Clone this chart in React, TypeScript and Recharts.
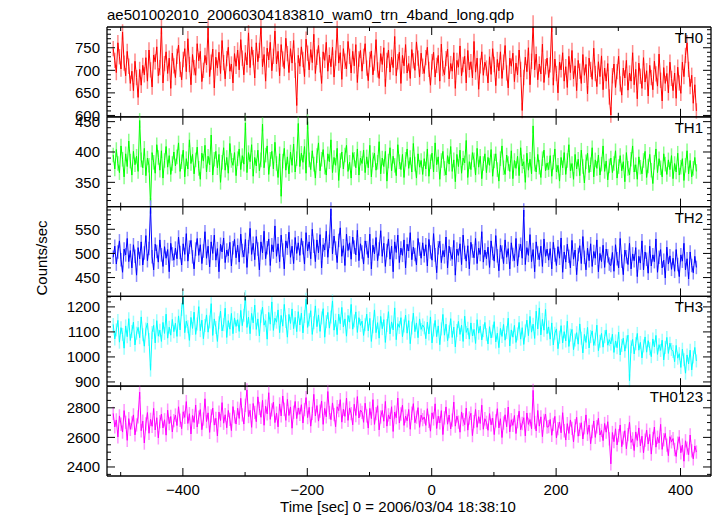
import { LineChart, Line, XAxis, YAxis, ErrorBar } from 'recharts'

// time axis: bins start at T0 and step DT seconds
const T0 = -512
const DT = 2.5

const th0 = [
  748, 722, 695, 761, 730, 703, 785, 716, 688, 742, 709, 671, 698, 655, 720, 684, 640, 702, 667, 711,
  690, 728, 676, 745, 701, 663, 734, 719, 752, 688, 706, 797, 672, 715, 741, 693, 727, 660, 738, 710,
  684, 731, 756, 702, 679, 724, 748, 697, 770, 713, 668, 735, 706, 689, 759, 721, 742, 675, 700, 733,
  712, 794, 686, 718, 747, 661, 729, 705, 740, 693, 766, 717, 681, 726, 751, 698, 714, 672, 737, 709,
  745, 701, 768, 727, 690, 739, 712, 783, 706, 752, 728, 683, 761, 719, 744, 798, 708, 735, 676, 749,
  723, 762, 699, 731, 787, 714, 742, 688, 757, 725, 704, 771, 737, 695, 748, 716, 766, 700, 622, 733,
  709, 752, 724, 686, 769, 738, 701, 746, 717, 780, 693, 729, 755, 712, 671, 741, 722, 762, 698, 734,
  708, 751, 685, 727, 793, 716, 739, 680, 748, 720, 703, 764, 731, 694, 742, 710, 757, 673, 725, 744,
  698, 731, 759, 705, 677, 724, 743, 690, 716, 768, 701, 682, 737, 713, 750, 664, 722, 745, 696, 729,
  706, 775, 688, 719, 740, 671, 733, 710, 757, 694, 715, 682, 746, 721, 700, 763, 727, 685, 738, 709,
  693, 728, 751, 702, 667, 719, 740, 685, 711, 733, 676, 758, 704, 690, 726, 747, 681, 715, 698, 739,
  660, 722, 707, 754, 688, 713, 731, 672, 744, 701, 719, 683, 764, 696, 727, 658, 710, 741, 689, 718,
  705, 672, 730, 691, 748, 713, 666, 724, 699, 741, 682, 718, 755, 694, 661, 727, 709, 738, 675, 716,
  690, 745, 702, 611, 684, 729, 697, 750, 668, 720, 805, 701, 736, 679, 714, 692, 758, 673, 708, 727,
  684, 712, 802, 667, 725, 693, 650, 718, 701, 739, 676, 708, 662, 731, 695, 744, 681, 710, 655, 722,
  698, 671, 735, 689, 713, 648, 727, 702, 680, 749, 693, 664, 719, 686, 732, 657, 705, 676, 715, 641,
  601, 688, 714, 662, 697, 731, 670, 645, 705, 683, 722, 656, 694, 676, 739, 668, 702, 637, 716, 687,
  660, 728, 674, 699, 643, 711, 684, 657, 720, 692, 665, 736, 678, 632, 706, 671, 693, 650, 718, 682,
  655, 694, 638, 707, 672, 649, 718, 686, 733, 761, 702, 664, 689, 627, 668, 610,
]

const th1 = [
  395, 372, 404, 381, 366, 410, 388, 359, 397, 376, 418, 385, 362, 401, 379, 393, 368, 452, 387, 374,
  406, 361, 390, 378, 312, 399, 383, 365, 412, 391, 370, 402, 357, 386, 409, 375, 394, 363, 381, 400,
  377, 392, 415, 368, 384, 403, 359, 389, 372, 420, 381, 396, 364, 387, 408, 373, 355, 398, 385, 411,
  367, 393, 379, 428, 362, 388, 401, 374, 396, 350, 383, 407, 370, 391, 365, 414, 386, 378, 399, 361,
  389, 405, 371, 394, 380, 448, 366, 399, 384, 412, 360, 391, 377, 403, 369, 387, 446, 374, 395, 410,
  363, 388, 401, 372, 416, 381, 358, 397, 327, 385, 406, 370, 392, 364, 400, 378, 413, 367, 389, 447,
  376, 398, 383, 409, 365, 450, 387, 371, 402, 380, 357, 394, 415, 369, 388, 404, 375, 362, 397, 384,
  420, 366, 391, 378, 406, 353, 386, 400, 372, 395, 411, 368, 383, 357, 399, 388, 374, 405, 362, 390,
  381, 403, 366, 392, 374, 411, 359, 387, 398, 370, 383, 417, 364, 390, 376, 401, 352, 385, 407, 369,
  393, 378, 361, 412, 384, 371, 396, 358, 388, 405, 373, 391, 367, 414, 380, 357, 397, 375, 386, 363,
  389, 372, 405, 360, 384, 398, 367, 415, 379, 392, 355, 386, 401, 373, 362, 394, 380, 409, 368, 387,
  351, 396, 376, 403, 365, 390, 382, 419, 358, 384, 371, 399, 387, 362, 406, 375, 393, 356, 381, 397,
  366, 391, 378, 404, 360, 385, 397, 371, 352, 389, 410, 374, 363, 395, 381, 368, 402, 356, 386, 373,
  393, 361, 407, 377, 384, 350, 398, 370, 388, 364, 443, 380, 367, 396, 375, 358, 389, 403, 369, 382,
  371, 394, 360, 383, 405, 367, 378, 352, 391, 374, 399, 363, 386, 412, 369, 381, 355, 396, 372, 388,
  361, 403, 376, 349, 384, 398, 366, 379, 407, 359, 387, 373, 395, 362, 380, 410, 368, 385, 354, 377,
  390, 366, 381, 402, 357, 376, 394, 369, 384, 351, 399, 373, 362, 388, 410, 367, 379, 355, 392, 375,
  364, 386, 401, 358, 377, 396, 370, 348, 383, 405, 366, 389, 374, 359, 397, 380, 363, 387, 371, 394,
  356, 381, 367, 398, 362, 375, 389, 353, 378, 402, 364, 386, 359, 373, 391, 368,
]

const th2 = [
  492, 515, 478, 503, 526, 487, 461, 509, 497, 531, 483, 506, 470, 518, 494, 455, 512, 489, 524, 476,
  501, 537, 485, 510, 596, 493, 466, 519, 504, 482, 528, 497, 473, 514, 490, 508, 462, 521, 499, 486,
  511, 489, 534, 502, 476, 520, 498, 541, 484, 513, 527, 493, 468, 509, 531, 496, 518, 479, 505, 545,
  490, 515, 472, 524, 500, 538, 486, 510, 462, 519, 503, 532, 481, 507, 495, 523, 474, 512, 529, 491,
  517, 482, 540, 506, 493, 529, 471, 514, 552, 498, 521, 487, 535, 509, 466, 524, 501, 546, 489, 512,
  530, 475, 518, 503, 557, 494, 520, 483, 538, 507, 468, 526, 511, 544, 492, 515, 479, 533, 500, 522,
  496, 531, 512, 478, 543, 505, 524, 489, 550, 515, 483, 528, 501, 539, 470, 518, 507, 546, 492, 525,
  592, 499, 536, 511, 481, 527, 553, 494, 516, 475, 540, 506, 522, 488, 534, 513, 497, 548, 485, 520,
  503, 478, 526, 512, 491, 540, 468, 517, 499, 533, 485, 509, 547, 494, 521, 473, 506, 530, 488, 515,
  462, 524, 502, 538, 481, 511, 496, 528, 470, 519, 505, 543, 487, 513, 498, 476, 531, 509, 490, 522,
  495, 518, 474, 529, 503, 486, 541, 497, 460, 512, 525, 481, 506, 493, 534, 470, 515, 499, 488, 527,
  455, 509, 496, 520, 477, 538, 502, 484, 516, 468, 523, 505, 491, 531, 479, 511, 498, 545, 482, 507,
  489, 513, 471, 526, 500, 484, 537, 495, 464, 517, 503, 479, 528, 492, 510, 468, 522, 498, 485, 531,
  474, 506, 519, 490, 590, 477, 512, 496, 539, 483, 508, 462, 524, 501, 487, 515, 473, 530, 494, 509,
  486, 510, 468, 523, 497, 475, 514, 490, 532, 461, 503, 482, 519, 494, 470, 527, 488, 507, 456, 498,
  516, 479, 535, 492, 466, 511, 485, 520, 473, 504, 490, 528, 462, 500, 483, 517, 471, 509, 495, 478,
  475, 502, 463, 518, 489, 470, 531, 484, 456, 507, 493, 477, 521, 468, 499, 485, 512, 452, 494, 480,
  526, 466, 503, 488, 459, 515, 474, 497, 483, 530, 461, 492, 508, 470, 486, 449, 513, 478, 495, 467,
  490, 463, 508, 477, 452, 497, 484, 521, 466, 489, 447, 503, 475, 460, 494, 471,
]

const th3 = [
  1130, 1072, 1108, 1146, 1059, 1117, 1090, 1035, 1124, 1081, 1153, 1066, 1102, 1139, 1048, 1095, 1118, 1077, 1160, 1089,
  1043, 1112, 1135, 1070, 947, 1098, 1126, 1056, 1145, 1083, 1107, 1062, 1138, 1094, 1171, 1075, 1119, 1087, 1150, 1101,
  1135, 1082, 1164, 1108, 1190, 1238, 1097, 1143, 1121, 1066, 1158, 1114, 1179, 1090, 1132, 1201, 1105, 1147, 1073, 1126,
  1168, 1099, 1140, 1213, 1086, 1152, 1118, 1062, 1137, 1183, 1104, 1129, 1195, 1078, 1145, 1111, 1174, 1093, 1156, 1122,
  1149, 1102, 1186, 1125, 1167, 1241, 1118, 1159, 1093, 1174, 1136, 1207, 1110, 1152, 1084, 1163, 1199, 1127, 1145, 1071,
  1178, 1131, 1220, 1106, 1155, 1139, 1188, 1097, 1166, 1123, 1210, 1142, 1079, 1170, 1134, 1192, 1113, 1158, 1101, 1181,
  1128, 1175, 1096, 1162, 1231, 1118, 1149, 1185, 1090, 1137, 1204, 1121, 1168, 1102, 1156, 1193, 1079, 1141, 1178, 1115,
  1160, 1224, 1107, 1147, 1089, 1171, 1133, 1198, 1120, 1152, 1083, 1166, 1139, 1210, 1111, 1144, 1180, 1098, 1157, 1126,
  1143, 1086, 1129, 1171, 1104, 1154, 1062, 1121, 1188, 1097, 1137, 1075, 1162, 1113, 1149, 1058, 1126, 1181, 1092, 1140,
  1108, 1196, 1069, 1133, 1118, 1157, 1081, 1124, 1167, 1095, 1145, 1053, 1116, 1175, 1101, 1136, 1077, 1152, 1110, 1128,
  1117, 1073, 1139, 1092, 1160, 1056, 1108, 1146, 1081, 1124, 1049, 1112, 1170, 1087, 1131, 1065, 1101, 1153, 1078, 1119,
  1040, 1106, 1142, 1090, 1127, 1062, 1163, 1098, 1115, 1071, 1136, 1084, 1110, 1054, 1149, 1095, 1123, 1068, 1105, 1138,
  1089, 1052, 1121, 1076, 1103, 1141, 1060, 1095, 1037, 1114, 1082, 1130, 1067, 1098, 1155, 1044, 1108, 1079, 1126, 1058,
  1092, 1138, 1071, 1117, 1050, 1104, 1147, 1085, 1162, 1099, 1131, 1074, 1183, 1112, 1196, 1088, 1150, 1107, 1190, 1093,
  1120, 1071, 1136, 1048, 1095, 1112, 1033, 1079, 1125, 1056, 1101, 1064, 1143, 1042, 1087, 1110, 1029, 1068, 1097, 1051,
  1132, 1075, 1016, 1090, 1058, 1118, 1036, 1082, 1104, 1046, 1071, 1127, 1025, 1063, 1094, 1039, 1081, 1108, 1047, 1069,
  1052, 1091, 1018, 1064, 1037, 1099, 1008, 1046, 1075, 1023, 1060, 1087, 905, 1041, 1070, 1012, 1053, 1094, 1027, 1058,
  996, 1044, 1080, 1019, 1065, 1033, 1001, 1072, 1040, 1086, 1010, 1049, 1026, 1067, 988, 1038, 1078, 1014, 1055, 1030,
  1022, 981, 1046, 995, 1013, 958, 1031, 989, 935, 1008, 972, 1027, 948, 1000, 1038, 984,
]

const th0123 = [
  2762, 2671, 2718, 2603, 2745, 2689, 2636, 2781, 2702, 2580, 2727, 2654, 2698, 2752, 2617, 2684, 2739, 2906, 2645, 2710,
  2562, 2691, 2768, 2628, 2722, 2675, 2796, 2650, 2733, 2597, 2706, 2758, 2664, 2719, 2615, 2784, 2693, 2741, 2637, 2713,
  2751, 2680, 2807, 2716, 2659, 2773, 2735, 2842, 2694, 2760, 2623, 2748, 2701, 2819, 2670, 2737, 2788, 2652, 2724, 2861,
  2707, 2766, 2634, 2745, 2798, 2683, 2729, 2610, 2771, 2714, 2835, 2696, 2753, 2665, 2782, 2722, 2646, 2808, 2739, 2690,
  2797, 2728, 2864, 2752, 2690, 2817, 2921, 2741, 2783, 2668, 2829, 2769, 2706, 2874, 2795, 2736, 2850, 2682, 2811, 2759,
  2902, 2722, 2786, 2838, 2700, 2764, 2671, 2826, 2745, 2880, 2790, 2715, 2857, 2748, 2806, 2662, 2770, 2843, 2727, 2799,
  2756, 2821, 2697, 2788, 2869, 2734, 2803, 2676, 2762, 2891, 2745, 2815, 2710, 2778, 2846, 2688, 2796, 2739, 2910, 2768,
  2720, 2833, 2754, 2672, 2807, 2781, 2855, 2703, 2790, 2742, 2866, 2715, 2799, 2761, 2685, 2824, 2748, 2876, 2731, 2785,
  2769, 2702, 2831, 2745, 2663, 2796, 2727, 2855, 2688, 2760, 2814, 2651, 2738, 2782, 2709, 2843, 2676, 2752, 2724, 2807,
  2640, 2771, 2733, 2866, 2697, 2758, 2818, 2681, 2744, 2712, 2789, 2655, 2763, 2828, 2699, 2737, 2801, 2668, 2750, 2720,
  2738, 2681, 2794, 2709, 2642, 2766, 2725, 2827, 2660, 2743, 2698, 2781, 2619, 2732, 2806, 2689, 2751, 2657, 2717, 2839,
  2676, 2744, 2703, 2635, 2772, 2720, 2686, 2798, 2649, 2731, 2763, 2612, 2707, 2789, 2668, 2740, 2694, 2818, 2655, 2726,
  2702, 2648, 2761, 2685, 2730, 2619, 2712, 2794, 2664, 2726, 2599, 2697, 2753, 2672, 2805, 2637, 2719, 2681, 2748, 2626,
  2706, 2777, 2652, 2694, 2733, 2610, 2765, 2688, 2721, 2658, 2918, 2700, 2643, 2782, 2676, 2739, 2605, 2714, 2757, 2669,
  2673, 2721, 2614, 2688, 2742, 2596, 2659, 2704, 2631, 2767, 2645, 2582, 2693, 2627, 2718, 2661, 2570, 2679, 2736, 2608,
  2654, 2699, 2589, 2665, 2752, 2621, 2683, 2557, 2640, 2711, 2600, 2672, 2729, 2616, 2647, 2578, 2694, 2635, 2706, 2590,
  2421, 2633, 2571, 2658, 2549, 2612, 2684, 2537, 2596, 2645, 2523, 2619, 2702, 2566, 2590, 2511, 2637, 2579, 2664, 2542,
  2608, 2496, 2581, 2649, 2555, 2620, 2487, 2593, 2670, 2534, 2601, 2563, 2688, 2519, 2584, 2627, 2548, 2476, 2605, 2570,
  2592, 2518, 2471, 2561, 2604, 2496, 2548, 2439, 2577, 2527, 2483, 2616, 2509, 2455, 2542, 2501,
]

// typical 1-sigma error per bin
const th0Err = 17
const th1Err = 12
const th2Err = 14
const th3Err = 26
const th0123Err = 45

const xMajor = [-400, -200, 0, 200, 400]
const xMinor = [-500, -300, -100, 100, 300]
const xLabels = ['\u2212400', '\u2212200', '0', '200', '400']
const xDomain = [-522, 449]

const W = 717
const H = 516
const PLOT_L = 107
const PLOT_R = 711
const TOP = 27
const BOTTOM = 476
const FONT = "'Liberation Sans', Arial, Helvetica, sans-serif"

const panels = [
  { name: 'TH0', values: th0, err: th0Err, color: '#ff0000', errColor: '#ff8a8a', domain: [597, 796], major: [600, 650, 700, 750], minorStep: 10 },
  { name: 'TH1', values: th1, err: th1Err, color: '#00ff00', errColor: '#8aff8a', domain: [310, 458], major: [350, 400, 450], minorStep: 10 },
  { name: 'TH2', values: th2, err: th2Err, color: '#0000ff', errColor: '#8a8aff', domain: [411, 597], major: [450, 500, 550], minorStep: 10 },
  { name: 'TH3', values: th3, err: th3Err, color: '#00ffff', errColor: '#9affff', domain: [883, 1242], major: [900, 1000, 1100, 1200], minorStep: 20 },
  { name: 'TH0123', values: th0123, err: th0123Err, color: '#ff00ff', errColor: '#ff94ff', domain: [2339, 2946], major: [2400, 2600, 2800], minorStep: 50 },
]

function stepTicks(lo: number, hi: number, step: number) {
  const out: number[] = []
  for (let v = Math.ceil(lo / step) * step; v <= hi; v += step) out.push(v)
  return out
}

function XTick(props: any) {
  const { x, y, payload, side, showLabel } = props
  const i = xMajor.indexOf(payload.value)
  const len = i >= 0 ? 8 : 4
  const d = side === 'top' ? 1 : -1
  return (
    <g>
      <line x1={x} x2={x} y1={y} y2={y + d * len} stroke="#000" strokeWidth={1} />
      {showLabel && i >= 0 && (
        <text x={x} y={y + 19} textAnchor="middle" fontSize={15} fill="#000">{xLabels[i]}</text>
      )}
    </g>
  )
}

function YTick(props: any) {
  const { x, y, payload, side, major } = props
  const isMajor = major.includes(payload.value)
  const len = isMajor ? 8 : 4
  const d = side === 'left' ? 1 : -1
  return (
    <g>
      <line x1={x} x2={x + d * len} y1={y} y2={y} stroke="#000" strokeWidth={1} />
      {side === 'left' && isMajor && (
        <text x={x - 7} y={y} dy="0.35em" textAnchor="end" fontSize={15} fill="#000">{payload.value}</text>
      )}
    </g>
  )
}

function Panel({ p, idx }: { p: (typeof panels)[number]; idx: number }) {
  const ph = (BOTTOM - TOP) / panels.length
  const top = TOP + idx * ph
  const bottom = top + ph
  const last = idx === panels.length - 1
  const rows = p.values.map((v, i) => ({ t: T0 + i * DT, v, e: p.err }))
  const yTicks = stepTicks(p.domain[0], p.domain[1], p.minorStep)
  const xTicks = [...xMajor, ...xMinor].sort((a, b) => a - b)
  const axisLine = { stroke: '#000', strokeWidth: 1.3 }
  // axes are 1px thick so recharts still renders them
  return (
    <div style={{ position: 'absolute', left: 0, top: 0 }}>
      <LineChart width={W} height={H} data={rows}
        margin={{ top: top - 1, right: W - PLOT_R - 1, bottom: H - bottom - 1, left: PLOT_L - 1 }}>
        <XAxis xAxisId="b" type="number" dataKey="t" domain={xDomain} allowDataOverflow ticks={xTicks} interval={0}
          height={1} tickSize={0} tickMargin={0} tickLine={false} axisLine={axisLine}
          tick={(tp: any) => <XTick {...tp} side="bottom" showLabel={last} />} />
        <XAxis xAxisId="t" orientation="top" type="number" dataKey="t" domain={xDomain} allowDataOverflow ticks={xTicks} interval={0}
          height={1} tickSize={0} tickMargin={0} tickLine={false} axisLine={axisLine}
          tick={(tp: any) => <XTick {...tp} side="top" />} />
        <YAxis yAxisId="l" type="number" domain={p.domain} allowDataOverflow ticks={yTicks} interval={0}
          width={1} tickSize={0} tickMargin={0} tickLine={false} axisLine={axisLine}
          tick={(tp: any) => <YTick {...tp} side="left" major={p.major} />} />
        <YAxis yAxisId="r" orientation="right" type="number" domain={p.domain} allowDataOverflow ticks={yTicks} interval={0}
          width={1} tickSize={0} tickMargin={0} tickLine={false} axisLine={axisLine}
          tick={(tp: any) => <YTick {...tp} side="right" major={p.major} />} />
        <Line xAxisId="b" yAxisId="l" dataKey="v" stroke="none" dot={false} isAnimationActive={false}>
          <ErrorBar dataKey="e" direction="y" width={0} stroke={p.errColor} strokeWidth={1.5} isAnimationActive={false} />
        </Line>
        <Line xAxisId="b" yAxisId="l" dataKey="v" stroke={p.color} strokeWidth={1} dot={false} isAnimationActive={false} />
      </LineChart>
    </div>
  )
}

export default function App() {
  const ph = (BOTTOM - TOP) / panels.length
  return (
    <div style={{ position: 'absolute', left: 0, top: 0, width: W, height: H, background: '#fff', fontFamily: FONT }}>
      {panels.map((p, i) => <Panel key={p.name} p={p} idx={i} />)}
      <svg width={W} height={H} style={{ position: 'absolute', left: 0, top: 0, pointerEvents: 'none' }} fontFamily={FONT}>
        <text x={PLOT_L} y={20} fontSize={15} fill="#000">ae501002010_20060304183810_wam0_trn_4band_long.qdp</text>
        {panels.map((p, i) => (
          <text key={p.name} x={PLOT_R - 8} y={TOP + i * ph + 16} textAnchor="end" fontSize={15} fill="#000">{p.name}</text>
        ))}
        <text x={42} y={258} transform="rotate(-90 42 258)" textAnchor="middle" dy="0.35em" fontSize={15} fill="#000">Counts/sec</text>
        <text x={398} y={512} textAnchor="middle" fontSize={15} fill="#000">Time [sec] 0 = 2006/03/04 18:38:10</text>
      </svg>
    </div>
  )
}
